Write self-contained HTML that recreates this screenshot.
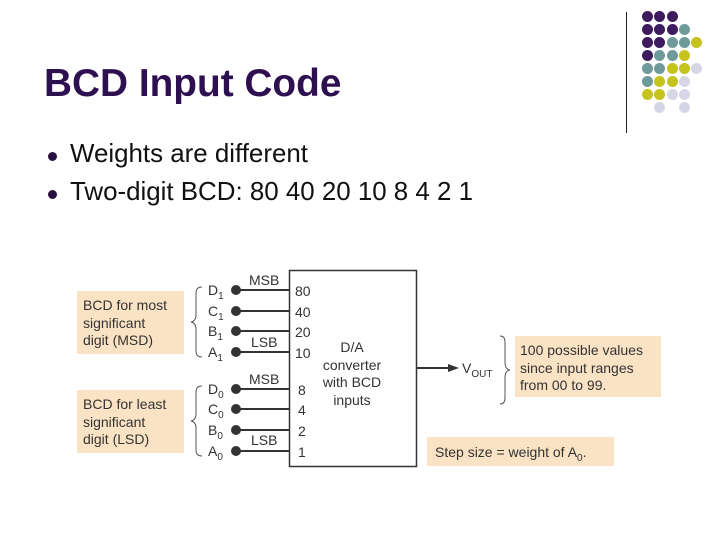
<!DOCTYPE html>
<html><head><style>
body{margin:0;width:720px;height:540px;background:#fff;position:relative;overflow:hidden;font-family:"Liberation Sans",sans-serif}
.a{position:absolute;white-space:nowrap}
.dot{position:absolute;width:11px;height:11px;border-radius:50%}
</style></head><body>
<div class="a" style="left:44px;top:62px;font-size:38.8px;font-weight:bold;color:#2e0f50">BCD Input Code</div>
<div class="a" style="left:48px;top:152px;width:9px;height:9px;border-radius:50%;background:#2a1040"></div>
<div class="a" style="left:70px;top:140px;font-size:25.9px;color:#111">Weights are different</div>
<div class="a" style="left:48px;top:190px;width:9px;height:9px;border-radius:50%;background:#2a1040"></div>
<div class="a" style="left:70px;top:178px;font-size:25.9px;color:#111">Two-digit BCD: 80 40 20 10 8 4 2 1</div>
<div class="a" style="left:626px;top:12px;width:1px;height:121px;background:#222"></div>
<div id="dots"></div>
<svg class="a" style="left:0;top:0" width="720" height="540">
<g fill="#fae3c4"><rect x="77" y="291" width="107" height="63"/><rect x="77" y="390" width="107" height="63"/><rect x="515" y="336" width="146" height="61"/><rect x="427" y="437" width="187" height="29"/></g>
<rect x="289.5" y="270.5" width="127" height="196" fill="none" stroke="#333" stroke-width="1.5"/>
<g stroke="#333" stroke-width="2" fill="#333">
<line x1="236" y1="290" x2="289" y2="290"/><line x1="236" y1="311" x2="289" y2="311"/><line x1="236" y1="331" x2="289" y2="331"/><line x1="236" y1="352" x2="289" y2="352"/>
<line x1="236" y1="389" x2="289" y2="389"/><line x1="236" y1="409" x2="289" y2="409"/><line x1="236" y1="430" x2="289" y2="430"/><line x1="236" y1="451" x2="289" y2="451"/>
<circle cx="236" cy="290" r="4"/><circle cx="236" cy="311" r="4"/><circle cx="236" cy="331" r="4"/><circle cx="236" cy="352" r="4"/>
<circle cx="236" cy="389" r="4"/><circle cx="236" cy="409" r="4"/><circle cx="236" cy="430" r="4"/><circle cx="236" cy="451" r="4"/>
<line x1="417" y1="368" x2="452" y2="368"/>
</g>
<polygon points="459,368 448,364 448,372" fill="#333"/>
<g fill="none" stroke="#555" stroke-width="1">
<path d="M202,287 Q196,287 196,293 L196,315 Q196,321 191,322 Q196,323 196,329 L196,351 Q196,357 202,357"/>
<path d="M202,386 Q196,386 196,392 L196,414 Q196,420 191,421 Q196,422 196,428 L196,450 Q196,456 202,456"/>
<path d="M500,336 Q505,336 505,342 L505,363 Q505,369 510,370 Q505,371 505,377 L505,398 Q505,404 500,404"/>
</g>
</svg>
<div style="position:absolute;left:0;top:0;font-size:14px;color:#333">
<div class="a" style="left:83px;top:297px;line-height:17.5px">BCD for most<br>significant<br>digit (MSD)</div>
<div class="a" style="left:83px;top:396px;line-height:17.5px">BCD for least<br>significant<br>digit (LSD)</div>
<div class="a" style="left:208px;top:282px">D<sub style="font-size:10px">1</sub></div>
<div class="a" style="left:208px;top:303px">C<sub style="font-size:10px">1</sub></div>
<div class="a" style="left:208px;top:323px">B<sub style="font-size:10px">1</sub></div>
<div class="a" style="left:208px;top:344px">A<sub style="font-size:10px">1</sub></div>
<div class="a" style="left:208px;top:381px">D<sub style="font-size:10px">0</sub></div>
<div class="a" style="left:208px;top:401px">C<sub style="font-size:10px">0</sub></div>
<div class="a" style="left:208px;top:422px">B<sub style="font-size:10px">0</sub></div>
<div class="a" style="left:208px;top:443px">A<sub style="font-size:10px">0</sub></div>
<div class="a" style="left:249px;top:272px">MSB</div>
<div class="a" style="left:251px;top:334px">LSB</div>
<div class="a" style="left:249px;top:371px">MSB</div>
<div class="a" style="left:251px;top:432px">LSB</div>
<div class="a" style="left:295px;top:283px">80</div>
<div class="a" style="left:295px;top:304px">40</div>
<div class="a" style="left:295px;top:324px">20</div>
<div class="a" style="left:295px;top:345px">10</div>
<div class="a" style="left:298px;top:382px">8</div>
<div class="a" style="left:298px;top:402px">4</div>
<div class="a" style="left:298px;top:423px">2</div>
<div class="a" style="left:298px;top:444px">1</div>
<div class="a" style="left:312px;top:339px;width:80px;text-align:center;line-height:17.5px">D/A<br>converter<br>with BCD<br>inputs</div>
<div class="a" style="left:462px;top:360px">V<sub style="font-size:10px">OUT</sub></div>
<div class="a" style="left:520px;top:342px;line-height:17.5px">100 possible values<br>since input ranges<br>from 00 to 99.</div>
<div class="a" style="left:435px;top:444px">Step size = weight of A<sub style="font-size:10px">0</sub>.</div>
</div>
<script>
var P="#3e1a5f",T="#6f9a9a",Y="#c6c31e",L="#d6d6e6";
var rows=[[P,P,P],[P,P,P,T],[P,P,T,T,Y],[P,T,T,Y],[T,T,Y,Y,L],[T,Y,Y,L],[Y,Y,L,L],[0,L,0,L]];
var h="";rows.forEach(function(r,i){r.forEach(function(c,j){if(c)h+='<div class="dot" style="left:'+(642+j*12.3)+'px;top:'+(11+i*13)+'px;background:'+c+'"></div>';});});
document.getElementById("dots").innerHTML=h;
</script>
</body></html>
